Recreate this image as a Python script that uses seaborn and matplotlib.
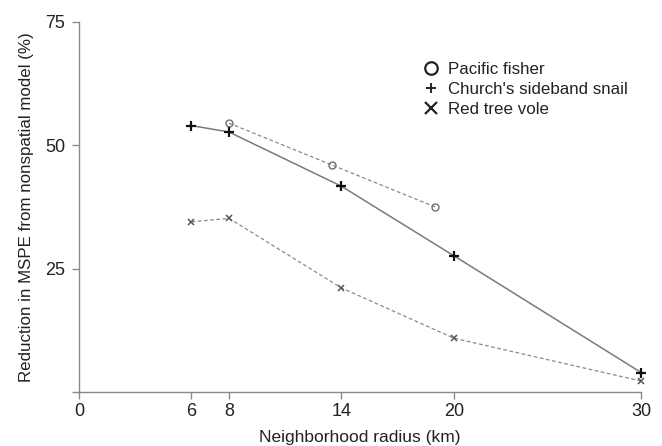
import pandas as pd
import seaborn as sns
import matplotlib.pyplot as plt
from matplotlib.lines import Line2D

# -------------------------- Data --------------------------
fisher_radius = [8, 13.5, 19]
fisher_reduction = [54.5, 46.0, 37.5]

snail_radius = [6, 8, 14, 20, 30]
snail_reduction = [54.0, 52.7, 41.7, 27.6, 3.9]

vole_radius = [6, 8, 14, 20, 30]
vole_reduction = [34.5, 35.2, 21.1, 10.9, 2.2]

x_ticks = [0, 6, 8, 14, 20, 30]
y_ticks = [0, 25, 50, 75]
y_tick_labels = ["", "25", "50", "75"]

species = ["Pacific fisher", "Church's sideband snail", "Red tree vole"]

# -------------------------- Style --------------------------
sns.set_theme(style="white")
plt.rcParams["font.family"] = ["Liberation Sans", "DejaVu Sans"]

fisher = pd.DataFrame({"radius": fisher_radius, "reduction": fisher_reduction})
snail = pd.DataFrame({"radius": snail_radius, "reduction": snail_reduction})
vole = pd.DataFrame({"radius": vole_radius, "reduction": vole_reduction})

fig = plt.figure(figsize=(6.62, 4.46), dpi=100)
ax = fig.add_axes([0.1193, 0.1211, 0.8497, 0.8296])

sns.lineplot(data=fisher, x="radius", y="reduction", ax=ax, color="#8a8a8a",
             linestyle=(0, (3, 2)), linewidth=0.9, marker="o", markersize=5,
             markerfacecolor="none", markeredgecolor="#6f6f6f", markeredgewidth=1.0,
             clip_on=False)
sns.lineplot(data=snail, x="radius", y="reduction", ax=ax, color="#7a7a7a",
             linestyle="-", linewidth=1.1, marker="+", markersize=7.5,
             markeredgecolor="#111111", markeredgewidth=1.6, clip_on=False)
sns.lineplot(data=vole, x="radius", y="reduction", ax=ax, color="#8a8a8a",
             linestyle=(0, (3, 2)), linewidth=0.9, marker="x", markersize=5,
             markeredgecolor="#555555", markeredgewidth=1.1, clip_on=False)

ax.set_xlim(0, 30)
ax.set_ylim(0, 75)
ax.set_xticks(x_ticks)
ax.set_yticks(y_ticks)
ax.set_yticklabels(y_tick_labels)

for side in ["top", "right"]:
    ax.spines[side].set_visible(False)
for side in ["left", "bottom"]:
    ax.spines[side].set_color("#8a8a8a")
    ax.spines[side].set_linewidth(1.0)

ax.tick_params(axis="both", which="major", direction="out", length=5, width=1.0,
               color="#8a8a8a", labelsize=13, labelcolor="#222222", pad=3,
               left=True, bottom=True)
ax.tick_params(axis="y", pad=5)

ax.set_xlabel("Neighborhood radius (km)", fontsize=12.5, color="#222222", labelpad=7)
ax.set_ylabel("Reduction in MSPE from nonspatial model (%)", fontsize=12.2,
              color="#222222", labelpad=8)

handles = [
    Line2D([], [], linestyle="none", marker="o", markersize=9, markerfacecolor="none",
           markeredgecolor="#222222", markeredgewidth=1.6),
    Line2D([], [], linestyle="none", marker="+", markersize=7,
           markeredgecolor="#222222", markeredgewidth=1.4),
    Line2D([], [], linestyle="none", marker="x", markersize=9,
           markeredgecolor="#222222", markeredgewidth=1.6),
]
leg = ax.legend(handles, species, loc="upper left", bbox_to_anchor=(0.612, 0.893),
                frameon=False, fontsize=12.2, handlelength=0.9, handletextpad=0.55,
                labelspacing=0.32, borderpad=0, borderaxespad=0)
for t in leg.get_texts():
    t.set_color("#222222")

fig.savefig("out.png", dpi=100)
